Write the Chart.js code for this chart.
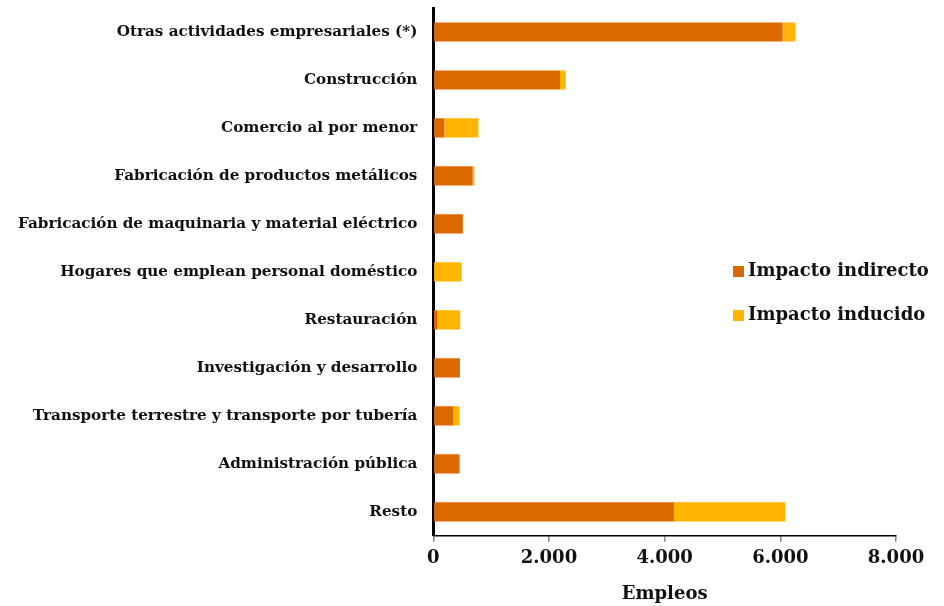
<!DOCTYPE html>
<html>
<head>
<meta charset="utf-8">
<script src="https://cdn.jsdelivr.net/npm/chart.js@4/dist/chart.umd.min.js"></script>
<style>
  html, body { margin: 0; padding: 0; background: #fff; }
  #wrap { width: 944px; height: 606px; position: relative; }
</style>
</head>
<body>
<div id="wrap"><canvas id="c"></canvas></div>
<script>
// Sectores y empleos generados (impacto indirecto e inducido)
const sectores = [
  'Otras actividades empresariales (*)',
  'Construcción',
  'Comercio al por menor',
  'Fabricación de productos metálicos',
  'Fabricación de maquinaria y material eléctrico',
  'Hogares que emplean personal doméstico',
  'Restauración',
  'Investigación y desarrollo',
  'Transporte terrestre y transporte por tubería',
  'Administración pública',
  'Resto'
];
const impactoIndirecto = [6040, 2190, 190, 680, 510, 0, 70, 460, 345, 455, 4160];
const impactoInducido  = [220, 100, 590, 30, 8, 490, 395, 0, 110, 0, 1925];
const ticksEje = [0, 2000, 4000, 6000, 8000];

const COLOR_INDIRECTO = '#DC6900';
const COLOR_INDUCIDO = '#FFB400';
const FUENTE = "'DejaVu Serif', Georgia, serif";

function miles(v) {
  return String(Math.round(v)).replace(/\B(?=(\d{3})+(?!\d))/g, '.');
}

// Leyenda dibujada a la derecha, dentro del área del gráfico
const leyenda = {
  id: 'leyendaLateral',
  afterDraw(chart) {
    const ctx = chart.ctx;
    ctx.save();
    ctx.font = "bold 18px " + FUENTE;
    ctx.textBaseline = 'middle';
    ctx.textAlign = 'left';
    const x = 733, ys = [271, 315];
    chart.data.datasets.forEach((ds, i) => {
      ctx.fillStyle = ds.backgroundColor;
      ctx.fillRect(x, ys[i] - 5, 11, 11);
      ctx.fillStyle = '#111';
      ctx.fillText(ds.label, x + 15, ys[i]);
    });
    ctx.restore();
  }
};

new Chart(document.getElementById('c'), {
  type: 'bar',
  data: {
    labels: sectores,
    datasets: [
      { label: 'Impacto indirecto', data: impactoIndirecto, backgroundColor: COLOR_INDIRECTO, borderWidth: 0 },
      { label: 'Impacto inducido', data: impactoInducido, backgroundColor: COLOR_INDUCIDO, borderWidth: 0 }
    ]
  },
  options: {
    indexAxis: 'y',
    responsive: true,
    maintainAspectRatio: false,
    animation: false,
    layout: { padding: { top: 8, right: 48, left: 2, bottom: 1 } },
    datasets: { bar: { categoryPercentage: 0.8, barPercentage: 0.5 } },
    plugins: {
      legend: { display: false },
      tooltip: { enabled: false }
    },
    scales: {
      x: {
        stacked: true,
        min: 0,
        max: 8000,
        afterBuildTicks(axis) { axis.ticks = ticksEje.map(v => ({ value: v })); },
        afterFit(axis) { axis.paddingLeft = 0; axis.paddingRight = 0; },
        grid: { display: true, drawOnChartArea: false, drawTicks: true, tickLength: 6, color: '#888', lineWidth: 1.5 },
        border: { display: true, color: '#000', width: 1.5 },
        ticks: {
          color: '#111',
          padding: 6,
          maxRotation: 0,
          font: { family: FUENTE, weight: 'bold', size: 18 },
          callback: (v) => miles(v)
        },
        title: {
          display: true,
          text: 'Empleos',
          color: '#111',
          padding: { top: 8, bottom: 0 },
          font: { family: FUENTE, weight: 'bold', size: 18 }
        }
      },
      y: {
        stacked: true,
        afterFit(axis) { axis.paddingTop = 0; axis.paddingBottom = 0; },
        grid: { display: false, drawTicks: false },
        border: { display: true, color: '#000', width: 3 },
        ticks: {
          color: '#111',
          padding: 16,
          font: { family: FUENTE, weight: 'bold', size: 15.2 }
        }
      }
    }
  },
  plugins: [leyenda]
});
</script>
</body>
</html>
